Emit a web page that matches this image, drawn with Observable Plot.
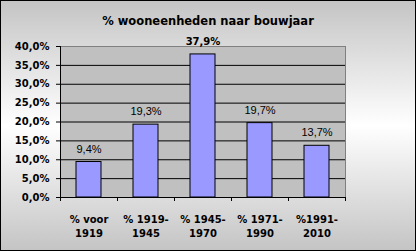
<!DOCTYPE html>
<html><head><meta charset="utf-8">
<script src="https://cdn.jsdelivr.net/npm/d3@7"></script>
<script src="https://cdn.jsdelivr.net/npm/@observablehq/plot@0.6"></script>
<style>
body{margin:0;}
#wrap{position:relative;width:416px;height:251px;background:linear-gradient(to bottom,#c4c4c4 0%,#ffffff 50%,#c4c4c4 100%);overflow:hidden;}
#chart{position:absolute;left:0;top:0;}
#title{position:absolute;left:0;top:14px;width:416px;text-align:center;font:bold 11.5px "DejaVu Sans";color:#000;}
#border{position:absolute;left:0;top:0;width:416px;height:251px;box-sizing:border-box;border:1px solid #000;pointer-events:none;}
</style></head>
<body>
<div id="wrap"><div id="chart"></div><div id="title">% wooneenheden naar bouwjaar</div><div id="border"></div></div>
<script>
const categories = ["% voor\n1919", "% 1919-\n1945", "% 1945-\n1970", "% 1971-\n1990", "%1991-\n2010"];
const values = [9.4, 19.3, 37.9, 19.7, 13.7];
const yTicks = [0, 5, 10, 15, 20, 25, 30, 35, 40];
const gridLines = [5, 10, 15, 20, 25, 30, 35];

const data = categories.map((c, i) => ({cat: c, value: values[i]}));
const W = 416, H = 251, ML = 60, MR = 71, MT = 46, MB = 54;
const half = (W - ML - MR) / categories.length / 2;
const pct = d => d.toFixed(1).replace(".", ",") + "%";
const maxV = d3.max(values);

const chart = Plot.plot({
  width: W, height: H,
  marginLeft: ML, marginRight: MR, marginTop: MT, marginBottom: MB,
  style: {background: "transparent", fontFamily: "DejaVu Sans", fontSize: "10px", fontWeight: "bold", color: "#000"},
  x: {domain: categories, paddingInner: 0.56, paddingOuter: 0.28},
  y: {domain: [0, 40]},
  marks: [
    Plot.frame({fill: "#c0c0c0", stroke: "#808080"}),
    Plot.ruleY(gridLines, {stroke: "#000", strokeWidth: 1}),
    Plot.barY(data, {x: "cat", y: "value", fill: "#9999ff", stroke: "#000", strokeWidth: 1}),
    Plot.frame({anchor: "left", stroke: "#000"}),
    Plot.frame({anchor: "bottom", stroke: "#000"}),
    Plot.axisY({ticks: yTicks, tickSize: 4, tickPadding: 7, tickFormat: pct, label: null, stroke: "#000"}),
    Plot.axisX({tickSize: 4, tickFormat: () => "", dx: -half, label: null, stroke: "#000"}),
    Plot.axisX({ticks: [categories[categories.length - 1]], tickSize: 4, tickFormat: () => "", dx: half, label: null, stroke: "#000"}),
    Plot.axisX({tickSize: 0, tickPadding: 16, lineHeight: 1.4, label: null}),
    Plot.text(data.filter(d => d.value !== maxV), {x: "cat", y: "value", text: d => pct(d.value), dy: -13, fontFamily: "Liberation Sans", fontSize: 11, fontWeight: "normal"}),
    Plot.text(data.filter(d => d.value === maxV), {x: "cat", y: "value", text: d => pct(d.value), dy: -13, fontSize: 10, fontWeight: "bold"})
  ]
});
document.getElementById("chart").appendChild(chart);
</script>
</body></html>
